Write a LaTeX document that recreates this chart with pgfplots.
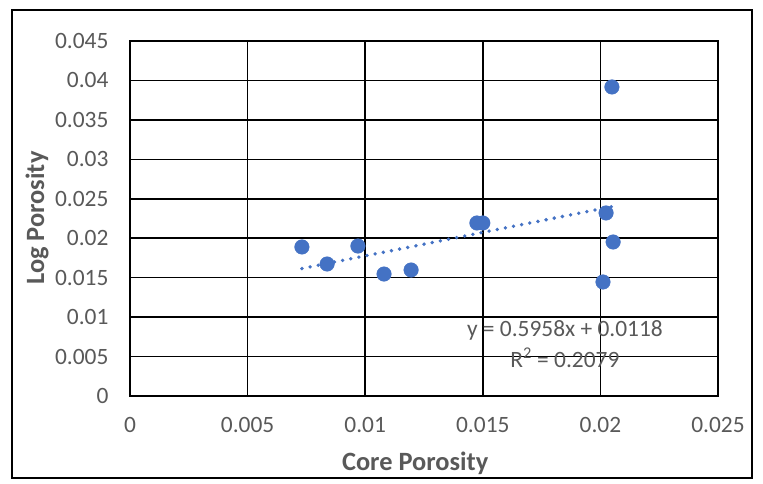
\documentclass[border=0pt]{standalone}
\usepackage{pgfplots}
\pgfplotsset{compat=1.18}
\usepackage{fontspec}
\setmainfont{Carlito}
\definecolor{ptblue}{HTML}{4472C4}
\definecolor{txtgray}{HTML}{595959}
\begin{document}
\begin{tikzpicture}[x=1bp,y=1bp]
\path[use as bounding box] (0,0) rectangle (763,484);
\draw[black,line width=1.3bp] (12,6) rectangle (752,474);
\begin{axis}[
  at={(130bp,88bp)}, anchor=south west,
  width=588bp, height=355bp, scale only axis,
  xmin=0, xmax=0.025, ymin=0, ymax=0.045,
  scaled ticks=false,
  xtick={0,0.005,...,0.025}, ytick={0,0.005,...,0.045},
  xticklabels={0,0.005,0.01,0.015,0.02,0.025},
  yticklabels={0,0.005,0.01,0.015,0.02,0.025,0.03,0.035,0.04,0.045},
  grid=major,
  major grid style={black,line width=1.6bp},
  axis line style={black,line width=1.6bp},
  major tick length=0pt,
  tick label style={font=\fontsize{23.5}{26}\selectfont, text=txtgray},
  xticklabel style={anchor=center, yshift=-29bp},
  yticklabel style={anchor=east, xshift=-18bp},
  xlabel={\textbf{Core Porosity}},
  ylabel={\textbf{Log Porosity}},
  label style={font=\fontsize{26.5}{30}\selectfont, text=txtgray},
  xlabel style={at={(axis description cs:0.485,0)}, anchor=center, yshift=-67bp},
  ylabel style={at={(axis description cs:-0.158,0.501)}, anchor=center},
  clip=false,
]
\addplot[only marks, mark=*, mark size=7.3bp, mark options={fill=ptblue, draw=ptblue}] coordinates {
(0.00731,0.01889)
(0.00838,0.01673)
(0.00969,0.01901)
(0.01080,0.01546)
(0.01195,0.01597)
(0.01475,0.02193)
(0.01500,0.02193)
(0.02024,0.02320)
(0.02049,0.03917)
(0.02054,0.01952)
(0.02011,0.01445)
};
\addplot[ptblue, line width=3.8bp, line cap=round, dash pattern=on 0pt off 8.3bp] coordinates {
(0.00731,0.016155) (0.02054,0.024038)
};
\node[text=txtgray, font=\fontsize{23.5}{26}\selectfont] at (axis cs:0.01849,0.00837) {y = 0.5958x + 0.0118};
\node[text=txtgray, font=\fontsize{23.5}{26}\selectfont] at (axis cs:0.01849,0.00482) {R\textsuperscript{2} = 0.2079};
\end{axis}
\end{tikzpicture}
\end{document}
